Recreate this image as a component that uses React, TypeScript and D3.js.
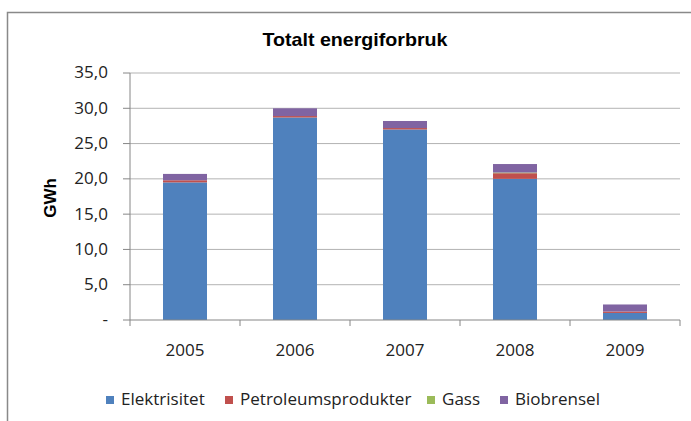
import React from 'react';
import * as d3 from 'd3';

const years = ['2005', '2006', '2007', '2008', '2009'];
const elektrisitet = [19.5, 28.7, 27.0, 20.0, 1.0];
const petroleum = [0.3, 0.2, 0.2, 0.8, 0.2];
const gass = [0, 0, 0, 0.1, 0];
const biobrensel = [0.9, 1.1, 1.0, 1.2, 1.0];
const seriesNames = ['Elektrisitet', 'Petroleumsprodukter', 'Gass', 'Biobrensel'];
const yTicks = [0, 5, 10, 15, 20, 25, 30, 35];

const colors = ['#4F81BD', '#C0504D', '#9BBB59', '#8064A2'];
const labelFont = '"Open Sans", Lato, sans-serif';
// the reference text is a bit wider than Open Sans
const stretch = 1.1;

function App() {
    const left = 130, right = 680, top = 73, bottom = 320;

    const x = d3.scaleBand().domain(years).range([left, right]).paddingInner(0.6).paddingOuter(0.3);
    const band = d3.scaleBand().domain(years).range([left, right]);
    const y = d3.scaleLinear().domain([0, 35]).range([bottom, top]);

    const rows = years.map((yr, i) => ({
        year: yr,
        Elektrisitet: elektrisitet[i],
        Petroleumsprodukter: petroleum[i],
        Gass: gass[i],
        Biobrensel: biobrensel[i],
    }));
    const stacked = d3.stack().keys(seriesNames)(rows as any);

    const fmt = (v: number) => (v === 0 ? '-' : d3.format('.1f')(v).replace('.', ','));

    const legendX = [106, 225, 427, 500];

    return (
        <svg width={691} height={421} style={{ position: 'absolute', left: 0, top: 0, background: '#fff' }}>
            <rect x={7.5} y={12.5} width={720} height={430} fill="#fff" stroke="#898989" strokeWidth={1.5} />
            <text x={355} y={46} textAnchor="middle" fontFamily='"Liberation Sans", Arial, sans-serif'
                fontWeight="bold" fontSize={19} textLength={185} lengthAdjust="spacingAndGlyphs">Totalt energiforbruk</text>

            {yTicks.map(t => (
                <g key={t}>
                    {t > 0 && <line x1={left} x2={right} y1={y(t)} y2={y(t)} stroke="#B3B3B3" strokeWidth={1} />}
                    <line x1={left - 7} x2={left} y1={y(t)} y2={y(t)} stroke="#868686" />
                    <text transform={`translate(108,${y(t)}) scale(${stretch},1)`} dy="0.35em" textAnchor="end"
                        fontFamily={labelFont} fontSize={15.5} fill="#222">{fmt(t)}</text>
                </g>
            ))}
            <line x1={left} x2={left} y1={top} y2={bottom} stroke="#868686" />

            {stacked.map((s, si) => (
                <g key={s.key} fill={colors[si]}>
                    {s.map((d, i) => (
                        <rect key={years[i]} x={x(years[i])} width={x.bandwidth()}
                            y={y(d[1])} height={Math.max(0, y(d[0]) - y(d[1]))} />
                    ))}
                </g>
            ))}

            <line x1={left} x2={right} y1={bottom} y2={bottom} stroke="#868686" />
            {years.concat(['end']).map((yr, i) => {
                const bx = i < years.length ? band(yr)! : right;
                return <line key={yr} x1={bx} x2={bx} y1={bottom} y2={bottom + 6} stroke="#868686" />;
            })}
            {years.map(yr => (
                <text key={yr} transform={`translate(${band(yr)! + band.bandwidth() / 2},356) scale(${stretch},1)`}
                    textAnchor="middle" fontFamily={labelFont} fontSize={15.5} fill="#222">{yr}</text>
            ))}

            <text transform="translate(56,198) rotate(-90)" textAnchor="middle"
                fontFamily='"Liberation Sans", Arial, sans-serif' fontWeight="bold" fontSize={17}>GWh</text>

            {seriesNames.map((n, i) => (
                <g key={n} transform={`translate(${legendX[i]},400)`}>
                    <rect x={0} y={-4} width={8} height={8} fill={colors[i]} />
                    <text transform={`translate(15,0) scale(${stretch},1)`} dy="0.35em" fontFamily={labelFont}
                        fontSize={15.5} fill="#222">{n}</text>
                </g>
            ))}
        </svg>
    );
}

export default App;
